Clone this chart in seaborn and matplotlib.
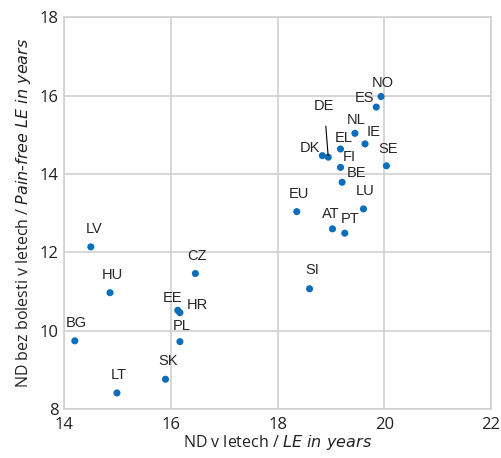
import pandas as pd
import matplotlib
matplotlib.use('Agg')
import matplotlib.pyplot as plt
import seaborn as sns

# Data
countries = ['NO', 'ES', 'NL', 'IE', 'EL', 'DK', 'DE', 'FI', 'SE', 'BE', 'EU', 'LU',
             'AT', 'PT', 'LV', 'HU', 'CZ', 'EE', 'HR', 'BG', 'PL', 'SK', 'LT', 'SI']
le_years = [19.94, 19.85, 19.45, 19.64, 19.18, 18.84, 18.95, 19.18, 20.04, 19.21, 18.36, 19.61,
            19.03, 19.26, 14.50, 14.86, 16.46, 16.13, 16.17, 14.20, 16.17, 15.90, 14.99, 18.60]
painfree_le = [15.98, 15.71, 15.04, 14.77, 14.64, 14.47, 14.43, 14.17, 14.21, 13.79, 13.04, 13.11,
               12.60, 12.49, 12.14, 10.97, 11.46, 10.52, 10.46, 9.74, 9.72, 8.76, 8.41, 11.07]

df = pd.DataFrame({'country': countries, 'le': le_years, 'pf': painfree_le})

# label offsets in pixels (dx, dy) relative to each point
offsets = {'NO': (2, 14), 'ES': (-12, 9), 'NL': (1, 13), 'IE': (9, 12), 'EL': (3, 11),
           'DK': (-12, 8), 'DE': (-4, 51), 'FI': (9, 10), 'SE': (2, 17), 'BE': (14, 9),
           'EU': (2, 18), 'LU': (2, 18), 'AT': (-2, 15), 'PT': (5, 14), 'LV': (3, 18),
           'HU': (2, 18), 'CZ': (2, 18), 'EE': (-5, 12), 'HR': (17, 8), 'BG': (2, 18),
           'PL': (2, 16), 'SK': (3, 18), 'LT': (2, 18), 'SI': (3, 19)}

sns.set_style('white')
plt.rcParams['font.family'] = ['Open Sans', 'DejaVu Sans']

fig = plt.figure(figsize=(5.01, 4.58), dpi=100)
ax = fig.add_axes([0.128, 0.107, 0.852, 0.855])

sns.scatterplot(data=df, x='le', y='pf', ax=ax, color='#0a6ebd', s=26,
                edgecolor='none', zorder=3)

for _, row in df.iterrows():
    dx, dy = offsets[row['country']]
    if row['country'] == 'DE':
        ax.annotate(row['country'], (row['le'], row['pf']), xytext=(dx, dy),
                    textcoords='offset pixels', ha='center', va='center',
                    fontsize=10.5, family='Liberation Sans',
                    arrowprops=dict(arrowstyle='-', color='black', lw=0.8,
                                    shrinkA=7, shrinkB=1))
    else:
        ax.annotate(row['country'], (row['le'], row['pf']), xytext=(dx, dy),
                    textcoords='offset pixels', ha='center', va='center',
                    fontsize=10.5, family='Liberation Sans')

ax.set_xlim(14, 22)
ax.set_ylim(8, 18)
ax.set_xticks([14, 16, 18, 20, 22])
ax.set_yticks([8, 10, 12, 14, 16, 18])
ax.grid(True, color='#d0d0d0', lw=1.2)
ax.set_axisbelow(True)
for sp in ax.spines.values():
    sp.set_color('#d0d0d0')
    sp.set_linewidth(1.2)
ax.tick_params(axis='both', length=0, labelsize=12, labelcolor='#222222')
ax.tick_params(axis='x', pad=6)
ax.tick_params(axis='y', pad=4)

ax.set_xlabel('ND v letech / $\\it{LE\\ in\\ years}$', fontsize=11.5, labelpad=0,
              color='#222222')
ax.set_ylabel('ND bez bolesti v letech / $\\it{Pain\\text{-}free\\ LE\\ in\\ years}$',
              fontsize=11.5, labelpad=5, color='#222222')

fig.savefig('out.png', dpi=100)
